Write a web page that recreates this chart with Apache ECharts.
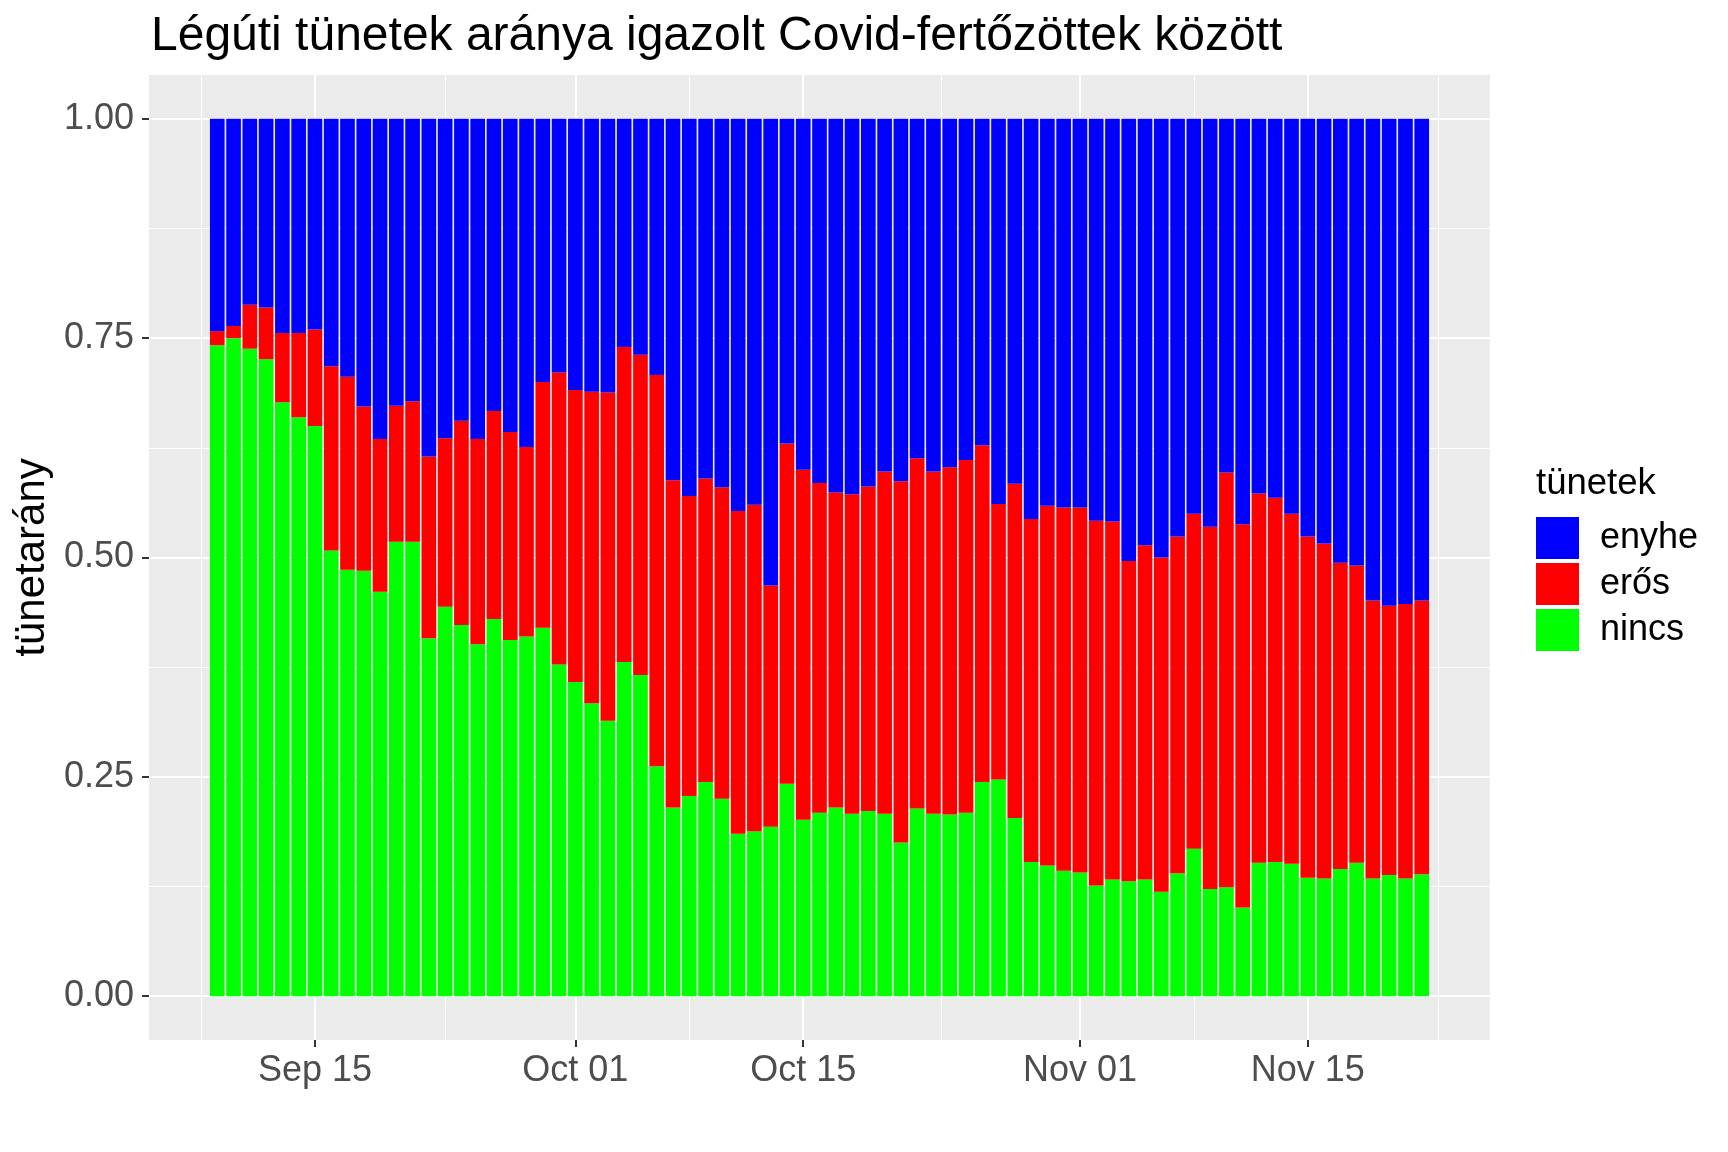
<!DOCTYPE html>
<html><head><meta charset="utf-8">
<script src="https://cdn.jsdelivr.net/npm/echarts@6/dist/echarts.min.js"></script>
<style>html,body{margin:0;padding:0;background:#fff}#c{width:1728px;height:1152px}</style>
</head><body><div id="c"></div>
<script>
const dates = [
'2020-09-09','2020-09-10','2020-09-11','2020-09-12','2020-09-13','2020-09-14','2020-09-15','2020-09-16','2020-09-17','2020-09-18',
'2020-09-19','2020-09-20','2020-09-21','2020-09-22','2020-09-23','2020-09-24','2020-09-25','2020-09-26','2020-09-27','2020-09-28',
'2020-09-29','2020-09-30','2020-10-01','2020-10-02','2020-10-03','2020-10-04','2020-10-05','2020-10-06','2020-10-07','2020-10-08',
'2020-10-09','2020-10-10','2020-10-11','2020-10-12','2020-10-13','2020-10-14','2020-10-15','2020-10-16','2020-10-17','2020-10-18',
'2020-10-19','2020-10-20','2020-10-21','2020-10-22','2020-10-23','2020-10-24','2020-10-25','2020-10-26','2020-10-27','2020-10-28',
'2020-10-29','2020-10-30','2020-10-31','2020-11-01','2020-11-02','2020-11-03','2020-11-04','2020-11-05','2020-11-06','2020-11-07',
'2020-11-08','2020-11-09','2020-11-10','2020-11-11','2020-11-12','2020-11-13','2020-11-14','2020-11-15','2020-11-16','2020-11-17',
'2020-11-18','2020-11-19','2020-11-20','2020-11-21','2020-11-22'];
const nincs = [
.742,.750,.738,.726,.677,.660,.650,.508,.486,.485,
.461,.518,.518,.408,.444,.423,.401,.430,.406,.410,
.420,.378,.358,.334,.314,.381,.366,.262,.215,.228,
.244,.225,.185,.188,.193,.242,.201,.209,.215,.208,
.211,.208,.175,.214,.208,.207,.209,.244,.247,.203,
.153,.149,.143,.141,.126,.133,.131,.133,.119,.140,
.168,.122,.124,.101,.152,.153,.151,.135,.134,.145,
.152,.134,.138,.134,.139];
const eros = [
.016,.014,.050,.059,.079,.096,.110,.210,.220,.187,
.174,.155,.160,.207,.192,.233,.234,.237,.237,.216,
.280,.333,.333,.355,.374,.359,.365,.446,.373,.342,
.346,.355,.368,.372,.275,.388,.399,.376,.359,.364,
.370,.390,.412,.399,.390,.396,.402,.384,.314,.381,
.391,.410,.414,.416,.416,.408,.365,.381,.381,.384,
.382,.413,.473,.437,.421,.415,.399,.389,.382,.349,
.339,.317,.307,.313,.312];
const enyhe = [
.242,.236,.212,.215,.244,.244,.240,.282,.294,.328,
.365,.327,.322,.385,.364,.344,.365,.333,.357,.374,
.300,.289,.309,.311,.312,.260,.269,.292,.412,.430,
.410,.420,.447,.440,.532,.370,.400,.415,.426,.428,
.419,.402,.413,.387,.402,.397,.389,.372,.439,.416,
.456,.441,.443,.443,.458,.459,.504,.486,.500,.476,
.450,.465,.403,.462,.427,.432,.450,.476,.484,.506,
.509,.549,.555,.553,.549];
const legendNames = ['enyhe', 'erős', 'nincs'];
const majorTickDates = ['2020-09-15','2020-10-01','2020-10-15','2020-11-01','2020-11-15'];
const majorTickLabels = ['Sep 15','Oct 01','Oct 15','Nov 01','Nov 15'];
const minorTickDates = ['2020-09-08','2020-09-23','2020-10-08','2020-10-23T12:00','2020-11-08','2020-11-23'];
const yTicks = [0, 0.25, 0.5, 0.75, 1];
const yMinorTicks = [0.125, 0.375, 0.625, 0.875];

const DAY = 86400000;
const ts = s => Date.parse(s.length === 10 ? s + 'T00:00:00Z' : s + ':00Z');
const FONT = '"Liberation Sans", Arial, sans-serif';
const t0 = ts(dates[0]);
const dayOf = s => (ts(s) - t0) / DAY;
const xs = dates.map(dayOf);
const half = 0.45;
const span = (xs[xs.length - 1] + half) - (xs[0] - half);
const xMin = xs[0] - half - 0.05 * span;
const xMax = xs[xs.length - 1] + half + 0.05 * span;
const majorX = majorTickDates.map(dayOf);
const minorX = minorTickDates.map(dayOf);

function mk(name, arr, color) {
  return {
    name, type: 'bar', stack: 'total', xAxisIndex: 0, yAxisIndex: 0,
    // value first so that the stack is computed on the y dimension
    data: xs.map((x, i) => [arr[i], x]),
    encode: { x: 1, y: 0 },
    barWidth: '90%', itemStyle: { color }, emphasis: { disabled: true }
  };
}

const chart = echarts.init(document.getElementById('c'), null, { renderer: 'canvas' });
chart.setOption({
  animation: false,
  backgroundColor: '#FFFFFF',
  textStyle: { fontFamily: FONT },
  title: [
    { text: 'Légúti tünetek aránya igazolt Covid-fertőzöttek között', left: 151, top: 13, padding: 0,
      textStyle: { fontSize: 48, fontWeight: 'normal', color: '#000000', fontFamily: FONT } },
    { text: 'tünetek', left: 1536, top: 465, padding: 0,
      textStyle: { fontSize: 36.5, fontWeight: 'normal', color: '#000000', fontFamily: FONT } }
  ],
  legend: {
    data: legendNames, orient: 'vertical', left: 1536, top: 517, padding: 0,
    itemWidth: 43, itemHeight: 42, itemGap: 4, icon: 'rect', selectedMode: false,
    textStyle: { fontSize: 36, color: '#000000', fontFamily: FONT, padding: [5, 0, 0, 16] }
  },
  grid: { left: 149, right: 238, top: 75, bottom: 112, show: true, backgroundColor: '#EBEBEB', borderWidth: 0, containLabel: false },
  xAxis: [
    { type: 'value', min: xMin, max: xMax, position: 'bottom', axisLine: { show: false, onZero: false },
      axisTick: { show: true, customValues: majorX, length: 7, lineStyle: { color: '#333333', width: 2 } },
      axisLabel: { customValues: majorX, fontSize: 36, color: '#4D4D4D', margin: 13, fontFamily: FONT,
        formatter: v => { const i = majorX.findIndex(t => Math.abs(t - v) < 1e-6); return i >= 0 ? majorTickLabels[i] : ''; } },
      splitLine: { show: true, lineStyle: { color: '#FFFFFF', width: 2 } } },
    { type: 'value', min: xMin, max: xMax, position: 'bottom', axisLine: { show: false, onZero: false },
      axisTick: { show: false, customValues: minorX }, axisLabel: { show: false, customValues: minorX },
      splitLine: { show: true, lineStyle: { color: '#FFFFFF', width: 1 } } }
  ],
  yAxis: [
    { type: 'value', min: -0.05, max: 1.05, position: 'left', axisLine: { show: false, onZero: false },
      axisTick: { show: true, customValues: yTicks, length: 7, lineStyle: { color: '#333333', width: 2 } },
      axisLabel: { customValues: yTicks, fontSize: 36, color: '#4D4D4D', margin: 15, fontFamily: FONT,
        formatter: v => v.toFixed(2) },
      splitLine: { show: true, lineStyle: { color: '#FFFFFF', width: 2 } },
      name: 'tünetarány', nameLocation: 'middle', nameGap: 96,
      nameTextStyle: { fontSize: 42, color: '#000000', fontFamily: FONT } },
    { type: 'value', min: -0.05, max: 1.05, position: 'left', axisLine: { show: false, onZero: false },
      axisTick: { show: false, customValues: yMinorTicks }, axisLabel: { show: false, customValues: yMinorTicks },
      splitLine: { show: true, lineStyle: { color: '#FFFFFF', width: 1 } } }
  ],
  series: [
    mk('nincs', nincs, '#00FF00'),
    mk('erős', eros, '#FF0000'),
    mk('enyhe', enyhe, '#0000FF')
  ]
});
</script>
</body></html>
